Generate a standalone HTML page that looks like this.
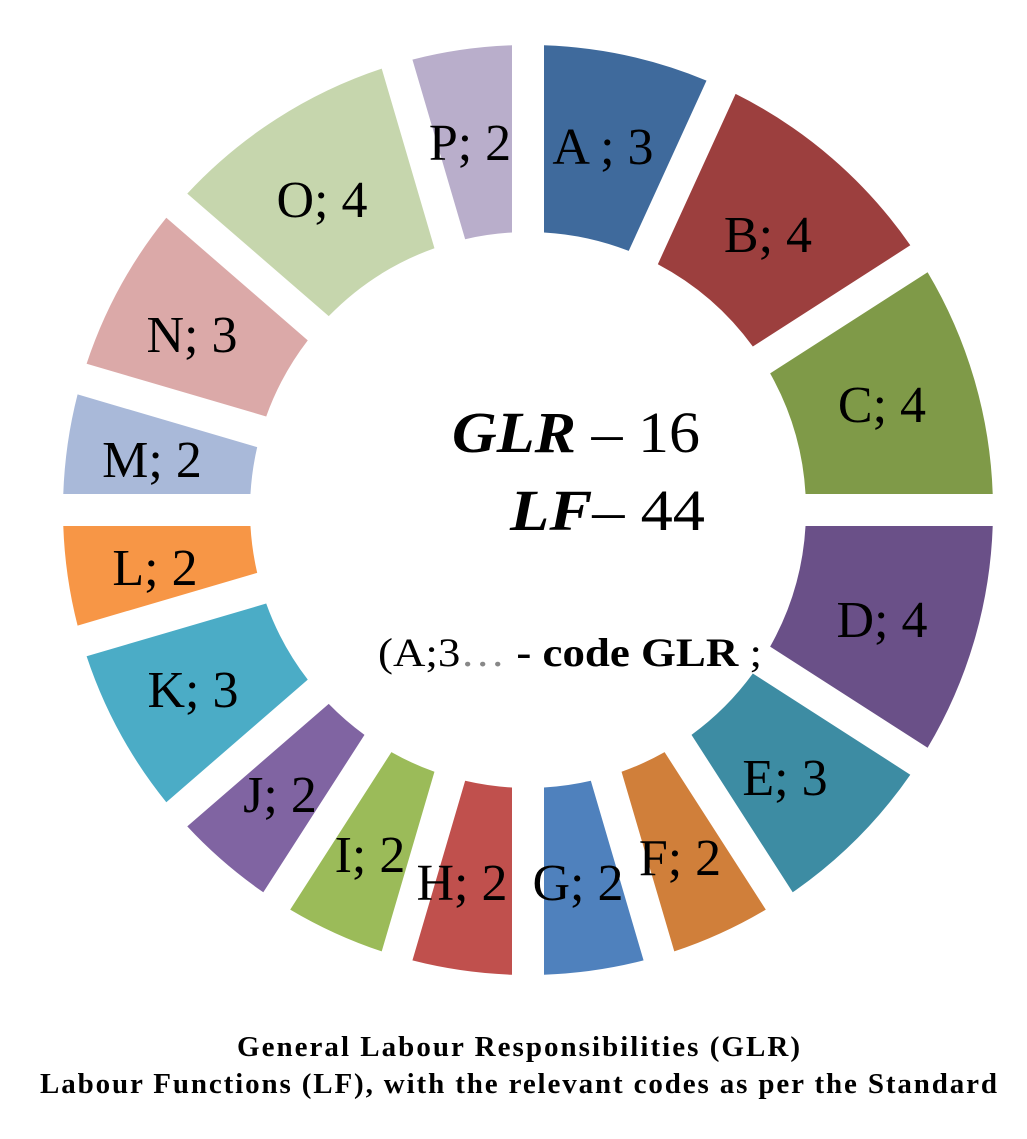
<!DOCTYPE html>
<html><head><meta charset="utf-8"><style>
html,body{margin:0;padding:0;background:#fff;}
body{width:1027px;height:1134px;overflow:hidden;}
svg text{font-family:"Liberation Serif",serif;}
</style></head><body>
<svg id="s" width="1027" height="1134" xmlns="http://www.w3.org/2000/svg">
<g id="segs"></g>
<g font-size="52" fill="#000" text-anchor="middle">
<text x="603" y="164">A ; 3</text>
<text x="768" y="252">B; 4</text>
<text x="882" y="422">C; 4</text>
<text x="882" y="637">D; 4</text>
<text x="785" y="795">E; 3</text>
<text x="680" y="875">F; 2</text>
<text x="578" y="900">G; 2</text>
<text x="462" y="900">H; 2</text>
<text x="370" y="872">I; 2</text>
<text x="280" y="812">J; 2</text>
<text x="193" y="707">K; 3</text>
<text x="155" y="585">L; 2</text>
<text x="152" y="477">M; 2</text>
<text x="192" y="352">N; 3</text>
<text x="322" y="217">O; 4</text>
<text x="470" y="160">P; 2</text>
</g>
<text x="452" y="452" font-size="58" textLength="248" lengthAdjust="spacingAndGlyphs"><tspan font-weight="bold" font-style="italic">GLR</tspan> – 16</text>
<text x="510" y="530" font-size="58" textLength="195" lengthAdjust="spacingAndGlyphs"><tspan font-weight="bold" font-style="italic">LF</tspan>– 44</text>
<text x="378" y="666" font-size="40" textLength="384" lengthAdjust="spacingAndGlyphs">(A;3<tspan fill="#888">…</tspan> <tspan font-weight="bold">- code GLR</tspan> ;</text>
<text x="237" y="1056" font-size="29" font-weight="bold" textLength="563" lengthAdjust="spacing">General Labour Responsibilities (GLR)</text>
<text x="40" y="1093" font-size="29" font-weight="bold" textLength="957" lengthAdjust="spacing">Labour Functions (LF), with the relevant codes as per the Standard</text>
</svg>
<script>
(function(){
var vals=[3,4,4,4,3,2,2,2,2,2,3,2,2,3,4,2];
var cols=["#3f6a9c","#9c3f3e","#7f9a48","#6a5088","#3d8ca3","#d07f3a","#4f81bd","#c0504d","#9bbb59","#8064a2","#4bacc6","#f79646","#a9b9d9","#dba9a8","#c6d6ad","#b9aecb"];
var cx=528,cy=510,R=465,r=278,g=16,tot=44;
var g0=document.getElementById('segs');var acc=0;
function pt(rad,ang,off){
  var s=Math.sin(ang),c=Math.cos(ang);
  var t=Math.sqrt(rad*rad-off*off);
  return [cx+t*s+off*c, cy-t*c+off*s];
}
for(var i=0;i<16;i++){
  var a0=acc/tot*2*Math.PI; acc+=vals[i]; var a1=acc/tot*2*Math.PI;
  var p1=pt(R,a0,g),p2=pt(R,a1,-g),p3=pt(r,a1,-g),p4=pt(r,a0,g);
  var large=(a1-a0)>Math.PI?1:0;
  var d="M"+p1[0]+","+p1[1]+" A"+R+","+R+" 0 "+large+" 1 "+p2[0]+","+p2[1]+" L"+p3[0]+","+p3[1]+" A"+r+","+r+" 0 "+large+" 0 "+p4[0]+","+p4[1]+" Z";
  var p=document.createElementNS("http://www.w3.org/2000/svg","path");
  p.setAttribute("d",d);p.setAttribute("fill",cols[i]);g0.appendChild(p);
}
})();
</script>
</body></html>
